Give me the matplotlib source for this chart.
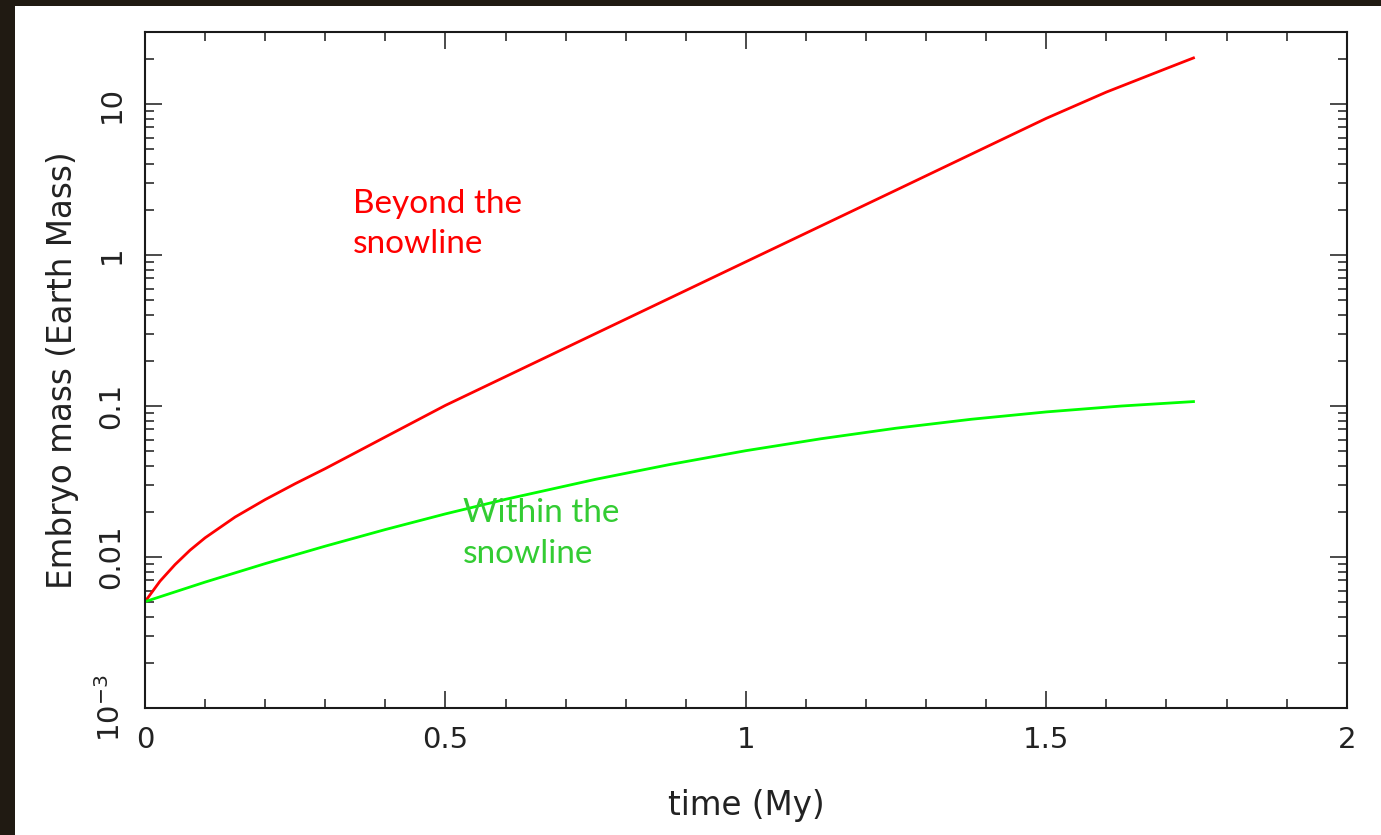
import numpy as np
import matplotlib
matplotlib.use('Agg')
import matplotlib.pyplot as plt
from matplotlib.patches import Rectangle
from matplotlib.ticker import FixedLocator, MultipleLocator, LogLocator, NullFormatter

# Datos (tiempo en My, masa en masas terrestres)
t_beyond = [0.0, 0.025, 0.05, 0.075, 0.1, 0.15, 0.2, 0.25, 0.3, 0.35, 0.4, 0.5,
            0.75, 1.0, 1.25, 1.4, 1.5, 1.6, 1.7, 1.745]
m_beyond = [0.00506, 0.00692, 0.00891, 0.0111, 0.0134, 0.0184, 0.0240, 0.0306, 0.0385,
            0.0490, 0.0624, 0.101, 0.302, 0.902, 2.69, 5.19, 8.04, 12.0, 17.2, 20.2]

t_within = [0.0, 0.1, 0.2, 0.3, 0.4, 0.5, 0.6, 0.75, 0.875, 1.0, 1.125, 1.25, 1.375,
            1.5, 1.625, 1.745]
m_within = [0.00506, 0.00682, 0.00904, 0.0118, 0.0152, 0.0193, 0.0241, 0.0327, 0.0411,
            0.0506, 0.0607, 0.0713, 0.0817, 0.0914, 0.100, 0.107]

y_ticks = [1e-3, 1e-2, 1e-1, 1, 10]
y_tick_labels = [r'$10^{-3}$', '0.01', '0.1', '1', '10']
x_ticks = [0, 0.5, 1, 1.5, 2]
x_tick_labels = ['0', '0.5', '1', '1.5', '2']

W, H = 1381, 835
fig = plt.figure(figsize=(W / 100, H / 100), dpi=100)
fig.patch.set_facecolor('#201a12')
fondo = Rectangle((15 / W, 0), 1 - 15 / W, (H - 6) / H, transform=fig.transFigure,
                  facecolor='white', edgecolor='none', zorder=-10)
fig.add_artist(fondo)

ax = fig.add_axes([145 / W, (H - 708) / H, (1346.7 - 145) / W, (708 - 32) / H])
ax.set_facecolor('white')

ax.plot(t_beyond, m_beyond, color='#ff0000', lw=2.0)
ax.plot(t_within, m_within, color='#00ff00', lw=2.0)

ax.set_yscale('log')
ax.set_xlim(0, 2)
ax.set_ylim(1e-3, 30)

ax.yaxis.set_major_locator(FixedLocator(y_ticks))
ax.set_yticklabels(y_tick_labels)
ax.yaxis.set_minor_locator(LogLocator(base=10, subs=np.arange(2, 10)))
ax.yaxis.set_minor_formatter(NullFormatter())
ax.xaxis.set_major_locator(FixedLocator(x_ticks))
ax.set_xticklabels(x_tick_labels)
ax.xaxis.set_minor_locator(MultipleLocator(0.1))

tick_color = '#1a1a1a'
ax.tick_params(which='both', direction='in', top=True, right=True, color=tick_color,
               width=1.1, labelsize=21, labelcolor='#222222')
ax.tick_params(which='major', length=12)
ax.tick_params(which='minor', length=6.5)
ax.tick_params(axis='x', pad=13)
ax.tick_params(axis='y', pad=14)
for lab in ax.get_yticklabels():
    lab.set_rotation(90)
    lab.set_va('center')
for s in ax.spines.values():
    s.set_linewidth(1.5)
    s.set_color(tick_color)

ax.set_xlabel('time (My)', fontsize=23.5, color='#222222', labelpad=25)
ax.set_ylabel('Embryo mass (Earth Mass)', fontsize=23.5, color='#222222', labelpad=12)

ax.text(0.346, 2.75, 'Beyond the\nsnowline', color='#ff0000', fontsize=24,
        family='Lato', va='top', ha='left', linespacing=1.45)
ax.text(0.529, 0.0245, 'Within the\nsnowline', color='#33cc33', fontsize=24,
        family='Lato', va='top', ha='left', linespacing=1.45)

fig.savefig('out.png', dpi=100, facecolor=fig.get_facecolor())
